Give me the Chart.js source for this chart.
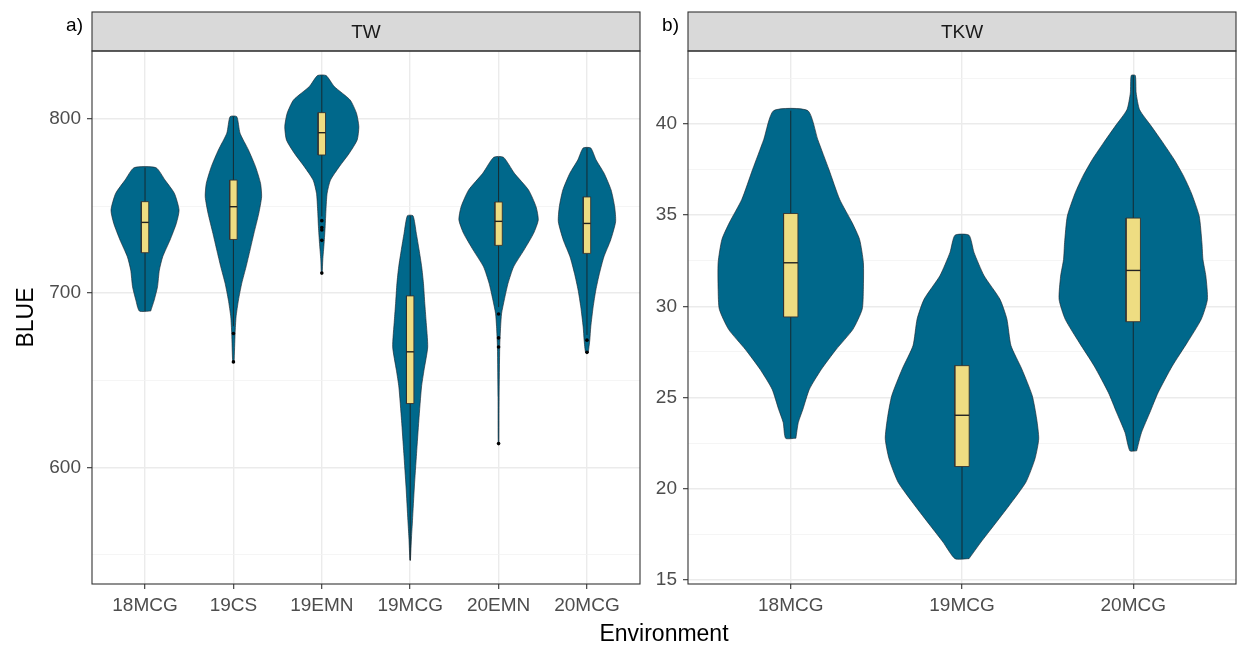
<!DOCTYPE html>
<html>
<head>
<meta charset="utf-8">
<script src="https://cdn.jsdelivr.net/npm/chart.js@4.4.1/dist/chart.umd.min.js"></script>
<style>
  html, body { margin: 0; padding: 0; background: #fff; }
  #wrap { position: relative; width: 1238px; height: 647px; overflow: hidden; font-family: "Liberation Sans", Arial, sans-serif; }
  canvas { position: absolute; top: 0; }
  #twChart { left: 0; }
  #tkwChart { left: 650px; }
  #xTitle { position: absolute; left: 564px; width: 200px; top: 619px; text-align: center; font-size: 23px; line-height: 28px; color: #000; }
</style>
</head>
<body>
<div id="wrap">
  <canvas id="twChart" width="650" height="647"></canvas>
  <canvas id="tkwChart" width="588" height="647"></canvas>
  <div id="xTitle">Environment</div>
</div>
<script>
// ---- TW panel (a) ----
const twEnv = ['18MCG', '19CS', '19EMN', '19MCG', '20EMN', '20MCG'];
const twQ1 = [723.2, 730.8, 779.3, 636.6, 727.4, 722.8];
const twMedian = [740.6, 749.6, 792.1, 666.3, 741.2, 740.0];
const twQ3 = [752.5, 764.9, 803.6, 698.4, 752.3, 755.2];
const twWhiskerLow = [689.7, 681.0, 744.0, 546.6, 692.0, 676.0];
const twWhiskerHigh = [772.0, 801.3, 824.9, 744.4, 778.0, 783.3];
const twOutliers = [[], [676.8, 660.5], [741.6, 737.6, 736.2, 730.3, 711.5], [], [688.0, 674.3, 669.1, 613.6], [673.0, 666.0]];
// violin outline: values (bottom -> top) and half width in category units
const twViolinValues = [
  [689.7, 696.0, 703.6, 713.2, 720.9, 730.5, 740.0, 747.7, 757.3, 764.9, 772.0],
  [660.5, 676.8, 686.4, 696.0, 705.6, 715.1, 724.7, 734.3, 745.8, 755.3, 763.0, 772.6, 782.2, 791.8, 801.3],
  [711.3, 719.0, 728.6, 738.1, 747.7, 757.3, 764.9, 772.6, 780.3, 787.9, 795.6, 803.3, 810.9, 818.6, 824.9],
  [546.6, 560.0, 569.5, 588.7, 607.9, 627.0, 646.1, 655.7, 669.1, 684.5, 694.1, 705.6, 715.1, 725.0, 734.4, 744.4],
  [613.6, 640.0, 669.1, 680.7, 688.3, 696.0, 705.6, 715.1, 724.7, 734.3, 742.0, 749.6, 759.2, 768.8, 778.0],
  [665.9, 673.0, 680.6, 692.1, 701.7, 711.3, 720.9, 730.5, 741.0, 749.6, 759.2, 768.8, 776.4, 783.3]
];
const twViolinHalf = [
  [0.064, 0.104, 0.141, 0.162, 0.2, 0.283, 0.354, 0.385, 0.332, 0.226, 0.124],
  [0.008, 0.019, 0.03, 0.057, 0.094, 0.143, 0.188, 0.232, 0.287, 0.319, 0.307, 0.25, 0.17, 0.075, 0.038],
  [0.005, 0.011, 0.026, 0.038, 0.047, 0.06, 0.098, 0.198, 0.311, 0.4, 0.419, 0.392, 0.32, 0.141, 0.049],
  [0.003, 0.015, 0.026, 0.047, 0.072, 0.098, 0.128, 0.156, 0.198, 0.179, 0.165, 0.15, 0.13, 0.1, 0.069, 0.032],
  [0.004, 0.006, 0.013, 0.023, 0.034, 0.064, 0.107, 0.17, 0.287, 0.396, 0.449, 0.424, 0.339, 0.179, 0.055],
  [0.015, 0.032, 0.043, 0.07, 0.1, 0.141, 0.192, 0.268, 0.324, 0.313, 0.273, 0.194, 0.104, 0.043]
];
const twMajorTicks = [600, 700, 800];
const twMinorTicks = [550, 650, 750];

// ---- TKW panel (b) ----
const tkwEnv = ['18MCG', '19MCG', '20MCG'];
const tkwQ1 = [29.42, 21.22, 29.16];
const tkwMedian = [32.39, 24.03, 31.97];
const tkwQ3 = [35.09, 26.75, 34.84];
const tkwWhiskerLow = [22.77, 16.17, 22.08];
const tkwWhiskerHigh = [40.73, 33.9, 42.66];
const tkwOutliers = [[], [], []];
const tkwViolinValues = [
  [22.77, 23.63, 24.36, 25.46, 26.55, 27.65, 28.74, 29.84, 30.93, 32.4, 33.67, 34.58, 35.86, 37.5, 39.14, 40.73],
  [16.17, 17.08, 17.99, 19.09, 20.36, 21.64, 22.74, 23.83, 25.11, 26.57, 27.85, 29.31, 30.4, 31.68, 32.96, 33.9],
  [22.08, 23.08, 24.18, 25.27, 26.73, 28.01, 29.29, 30.38, 31.66, 32.57, 33.49, 34.95, 36.22, 37.14, 38.05, 38.96, 39.87, 40.78, 41.7, 42.66]
];
const tkwViolinHalf = [
  [0.03, 0.044, 0.071, 0.109, 0.179, 0.266, 0.363, 0.417, 0.424, 0.424, 0.402, 0.359, 0.286, 0.223, 0.158, 0.1],
  [0.041, 0.111, 0.186, 0.276, 0.373, 0.426, 0.448, 0.436, 0.41, 0.349, 0.286, 0.262, 0.221, 0.129, 0.07, 0.041],
  [0.02, 0.048, 0.097, 0.145, 0.228, 0.315, 0.397, 0.433, 0.424, 0.407, 0.401, 0.385, 0.339, 0.294, 0.239, 0.174, 0.106, 0.037, 0.017, 0.012]
];
const tkwMajorTicks = [15, 20, 25, 30, 35, 40];
const tkwMinorTicks = [17.5, 22.5, 27.5, 32.5, 37.5, 42.5];

const FONT = '"Liberation Sans", Arial, sans-serif';
const violinFill = '#00688B';
const violinLine = 'rgba(25,35,45,0.9)';
const boxFill = '#EEDD82';
const BOX_HALF = 0.042;

// strip, frame and panel tag
const panelDecor = {
  id: 'panelDecor',
  afterDraw(chart, args, opts) {
    const { ctx, chartArea: a } = chart;
    ctx.save();
    ctx.fillStyle = '#D9D9D9';
    ctx.fillRect(a.left, opts.stripTop, a.right - a.left, a.top - opts.stripTop);
    ctx.strokeStyle = '#333333';
    ctx.lineWidth = 1.1;
    ctx.strokeRect(a.left, opts.stripTop, a.right - a.left, a.top - opts.stripTop);
    ctx.strokeRect(a.left, a.top, a.right - a.left, a.bottom - a.top);
    ctx.font = '19px ' + FONT;
    ctx.textBaseline = 'middle';
    ctx.textAlign = 'center';
    ctx.fillStyle = '#1A1A1A';
    ctx.fillText(opts.strip, (a.left + a.right) / 2, (opts.stripTop + a.top) / 2 + 1);
    ctx.textAlign = 'right';
    ctx.fillStyle = '#000';
    ctx.fillText(opts.tag, a.left - 9, 26);
    ctx.restore();
  }
};

function buildDatasets(values, halfs, q1, med, q3, lo, hi, outliers) {
  const ds = [];
  values.forEach((vs, i) => {
    const cx = i + 1;
    const right = vs.map((v, k) => ({ x: cx + halfs[i][k], y: v }));
    const left = vs.map((v, k) => ({ x: cx - halfs[i][k], y: v })).reverse();
    ds.push({
      data: right.concat(left, [right[0]]),
      fill: 'shape', backgroundColor: violinFill, borderColor: violinLine,
      borderWidth: 0.7, pointRadius: 0, tension: 0.2, order: 5
    });
    ds.push({
      data: [{ x: cx, y: lo[i] }, { x: cx, y: hi[i] }],
      fill: false, borderColor: '#1A1A1A', borderWidth: 0.8, pointRadius: 0, order: 4
    });
    ds.push({
      data: [{ x: cx - BOX_HALF, y: q1[i] }, { x: cx + BOX_HALF, y: q1[i] }, { x: cx + BOX_HALF, y: q3[i] },
             { x: cx - BOX_HALF, y: q3[i] }, { x: cx - BOX_HALF, y: q1[i] }],
      fill: 'shape', backgroundColor: boxFill, borderColor: '#333333',
      borderWidth: 0.9, pointRadius: 0, tension: 0, order: 3
    });
    ds.push({
      data: [{ x: cx - BOX_HALF, y: med[i] }, { x: cx + BOX_HALF, y: med[i] }],
      fill: false, borderColor: '#222222', borderWidth: 1.4, pointRadius: 0, order: 2
    });
    if (outliers[i].length) {
      ds.push({
        data: outliers[i].map(v => ({ x: cx, y: v })),
        showLine: false, pointRadius: 1.8, pointBackgroundColor: '#000',
        pointBorderWidth: 0, order: 1
      });
    }
  });
  return ds;
}

function makeScales(envs, yMin, yMax, major, minor, yWidth, yTitle) {
  const allY = major.concat(minor).sort((a, b) => a - b);
  const isMajor = v => major.includes(v);
  return {
    x: {
      type: 'linear', min: 0.4, max: envs.length + 0.6,
      afterBuildTicks: s => { s.ticks = envs.map((e, i) => ({ value: i + 1 })); },
      afterFit: s => { s.height = 63; },
      ticks: {
        callback: v => envs[v - 1], color: '#4D4D4D', font: { family: FONT, size: 19 },
        padding: 5, maxRotation: 0, autoSkip: false
      },
      grid: { color: '#EBEBEB', lineWidth: 1.4, tickColor: '#333333', tickLength: 5, tickWidth: 1.1 },
      border: { display: false }
    },
    y: {
      type: 'linear', min: yMin, max: yMax,
      afterBuildTicks: s => { s.ticks = allY.map(v => ({ value: v })); },
      afterFit: s => { s.width = yWidth; },
      ticks: {
        callback: v => (isMajor(v) ? String(v) : ''), color: '#4D4D4D',
        font: { family: FONT, size: 19 }, padding: 6, autoSkip: false
      },
      grid: {
        color: c => (isMajor(c.tick.value) ? '#EBEBEB' : '#F2F2F2'),
        lineWidth: c => (isMajor(c.tick.value) ? 1.4 : 0.8),
        tickColor: c => (isMajor(c.tick.value) ? '#333333' : 'rgba(0,0,0,0)'),
        tickLength: 5, tickWidth: 1.1
      },
      border: { display: false },
      title: {
        display: !!yTitle, text: yTitle, color: '#000',
        font: { family: FONT, size: 23 }, padding: { top: 13, bottom: 0 }
      }
    }
  };
}

function makeChart(id, datasets, scales, decor, padRight) {
  return new Chart(document.getElementById(id), {
    type: 'line',
    data: { datasets },
    options: {
      responsive: false, animation: false, devicePixelRatio: 1, events: [],
      layout: { padding: { top: 51, right: padRight, bottom: 0, left: 0 } },
      scales,
      plugins: { legend: { display: false }, tooltip: { enabled: false }, panelDecor: decor }
    },
    plugins: [panelDecor]
  });
}

makeChart('twChart',
  buildDatasets(twViolinValues, twViolinHalf, twQ1, twMedian, twQ3, twWhiskerLow, twWhiskerHigh, twOutliers),
  makeScales(twEnv, 533, 839, twMajorTicks, twMinorTicks, 92, 'BLUE'),
  { strip: 'TW', tag: 'a)', stripTop: 12 }, 10);

makeChart('tkwChart',
  buildDatasets(tkwViolinValues, tkwViolinHalf, tkwQ1, tkwMedian, tkwQ3, tkwWhiskerLow, tkwWhiskerHigh, tkwOutliers),
  makeScales(tkwEnv, 14.78, 44.0, tkwMajorTicks, tkwMinorTicks, 38, ''),
  { strip: 'TKW', tag: 'b)', stripTop: 12 }, 2);
</script>
</body>
</html>
